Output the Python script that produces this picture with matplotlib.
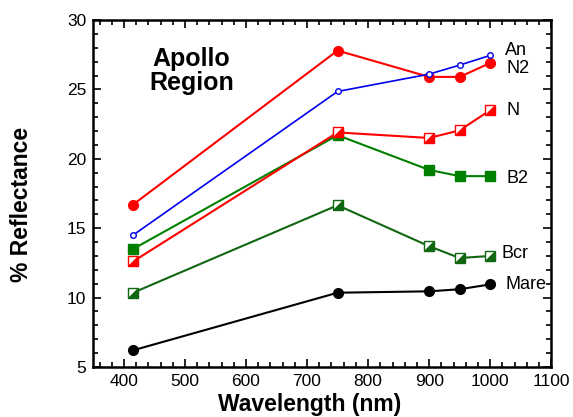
import numpy as np
import matplotlib.pyplot as plt
from matplotlib.path import Path

plt.rcParams['font.family'] = ['Liberation Sans', 'DejaVu Sans']

wavelength = [415, 750, 900, 950, 1000]
mare = [6.2, 10.35, 10.45, 10.6, 10.95]
bcr = [10.35, 16.65, 13.7, 12.85, 13.0]
b2 = [13.5, 21.7, 19.2, 18.75, 18.75]
n = [12.6, 21.9, 21.5, 22.05, 23.5]
n2 = [16.7, 27.8, 25.9, 25.9, 26.9]
an = [14.5, 24.85, 26.1, 26.75, 27.45]

# lower-right triangle for the half-filled squares
half_tri = Path([(-1, -1), (1, -1), (1, 1), (-1, -1)],
                [Path.MOVETO, Path.LINETO, Path.LINETO, Path.CLOSEPOLY])

fig = plt.figure(figsize=(5.73, 4.17), dpi=100)
ax = fig.add_axes([0.163, 0.12, 0.799, 0.832])

red = '#ff0000'
blue = '#0000ee'
green = '#008000'
dkgreen = '#116611'

ax.plot(wavelength, mare, color='black', lw=1.5, marker='o', ms=7)
ax.plot(wavelength, bcr, color=dkgreen, lw=1.5, marker='s', ms=6.5,
        mfc='white', mec=dkgreen, mew=1)
ax.plot(wavelength, bcr, ls='none', marker=half_tri, ms=5.5, color=dkgreen)
ax.plot(wavelength, b2, color=green, lw=1.5, marker='s', ms=7)
ax.plot(wavelength, n, color=red, lw=1.5, marker='s', ms=6.5,
        mfc='white', mec=red, mew=1)
ax.plot(wavelength, n, ls='none', marker=half_tri, ms=5.5, color=red)
ax.plot(wavelength, n2, color=red, lw=1.5, marker='o', ms=7)
ax.plot(wavelength, an, color=blue, lw=1.2, marker='o', ms=4,
        mfc='white', mec=blue, mew=1)

labels = ['An', 'N2', 'N', 'B2', 'Bcr', 'Mare']
label_x = [1024, 1026, 1027, 1026, 1019, 1025]
label_y = [27.8, 26.5, 23.5, 18.6, 13.2, 10.95]
for t, x, y in zip(labels, label_x, label_y):
    ax.text(x, y, t, fontsize=13, va='center', ha='left')

ax.text(511, 26.3, 'Apollo\nRegion', fontsize=18, fontweight='bold',
        ha='center', va='center', linespacing=1.0)

ax.set_xlim(350, 1100)
ax.set_ylim(5, 30)
ax.set_xticks(np.arange(400, 1101, 100))
ax.set_xticks(np.arange(360, 1100, 20), minor=True)
ax.set_yticks(np.arange(5, 31, 5))
ax.set_yticks(np.arange(5, 31, 1), minor=True)
ax.tick_params(which='both', direction='in', top=True, right=True,
               labelsize=12.5, width=1.2)
ax.tick_params(which='major', length=6, pad=5)
ax.tick_params(which='minor', length=3.5)
for s in ax.spines.values():
    s.set_linewidth(1.8)

ax.set_xlabel('Wavelength (nm)', fontsize=16.5, fontweight='bold')
ax.set_ylabel('% Reflectance', fontsize=16.5, fontweight='bold')
ax.xaxis.set_label_coords(0.473, -0.074)
ax.yaxis.set_label_coords(-0.132, 0.467)

fig.savefig('out.png', dpi=100)
